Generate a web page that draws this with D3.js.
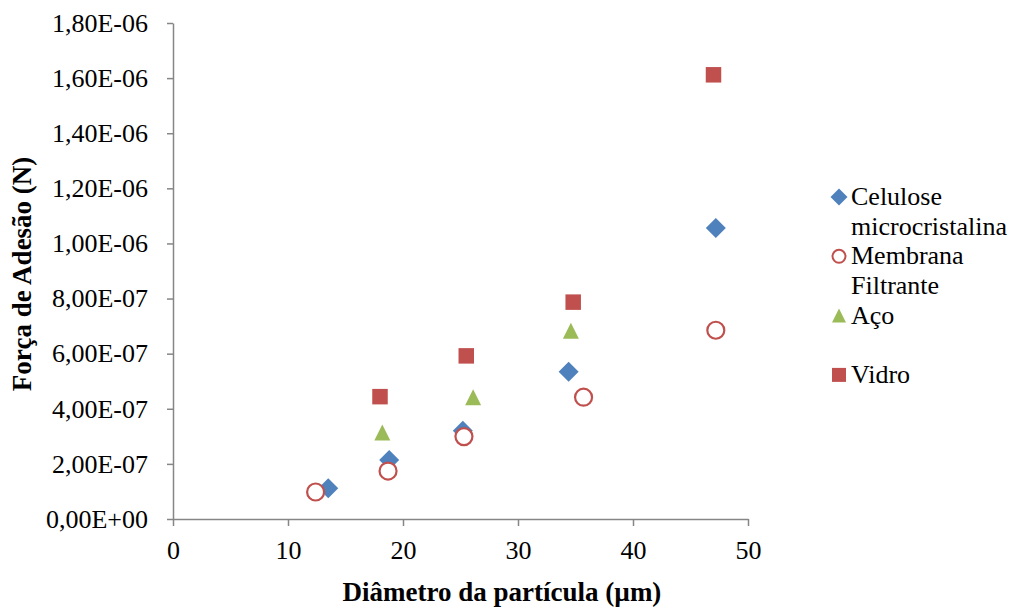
<!DOCTYPE html>
<html>
<head>
<meta charset="utf-8">
<script src="https://cdn.jsdelivr.net/npm/d3@7"></script>
<style>
  body { margin: 0; background: #fff; }
</style>
</head>
<body>
<script>
const WIDTH = 1016;
const HEIGHT = 612;
const FONT_SIZE = 26;
const FONT = '"Liberation Serif"';
const AXIS_COLOR = "#868686";

// tick values
const xTicks = [0, 10, 20, 30, 40, 50];
const yTicks = [0, 2e-7, 4e-7, 6e-7, 8e-7, 1e-6, 1.2e-6, 1.4e-6, 1.6e-6, 1.8e-6];

// series values
const seriesNames = ["Celulose microcristalina", "Membrana Filtrante", "Aço", "Vidro"];
const celuloseX = [13.5, 18.8, 25.2, 34.4, 47.2];
const celuloseY = [1.12e-7, 2.14e-7, 3.2e-7, 5.34e-7, 1.056e-6];
const membranaX = [12.4, 18.7, 25.3, 35.7, 47.2];
const membranaY = [0.98e-7, 1.74e-7, 2.99e-7, 4.42e-7, 6.85e-7];
const acoX = [18.2, 26.1, 34.6];
const acoY = [3.14e-7, 4.42e-7, 6.83e-7];
const vidroX = [18.0, 25.5, 34.8, 47.0];
const vidroY = [4.44e-7, 5.92e-7, 7.87e-7, 1.612e-6];

const diamond = {
  draw(ctx, size) {
    const r = Math.sqrt(size) / 2;
    ctx.moveTo(0, -r);
    ctx.lineTo(r, 0);
    ctx.lineTo(0, r);
    ctx.lineTo(-r, 0);
    ctx.closePath();
  },
};
const triangle = {
  draw(ctx, size) {
    const s = Math.sqrt(size) / 2;
    ctx.moveTo(0, -s);
    ctx.lineTo(s, s);
    ctx.lineTo(-s, s);
    ctx.closePath();
  },
};

const series = [
  { name: seriesNames[0], xs: celuloseX, ys: celuloseY, type: diamond, size: 20 * 20, legendSize: 17 * 17, fill: "#4F81BD", stroke: "none" },
  { name: seriesNames[1], xs: membranaX, ys: membranaY, type: d3.symbolCircle, size: Math.PI * 8.5 * 8.5, legendSize: Math.PI * 6.5 * 6.5, fill: "#fff", stroke: "#C0504D" },
  { name: seriesNames[2], xs: acoX, ys: acoY, type: triangle, size: 16 * 16, legendSize: 14 * 14, fill: "#9BBB59", stroke: "none" },
  { name: seriesNames[3], xs: vidroX, ys: vidroY, type: d3.symbolSquare, size: 15.5 * 15.5, legendSize: 14 * 14, fill: "#C0504D", stroke: "none" },
];

const svg = d3.select("body").append("svg")
  .attr("width", WIDTH)
  .attr("height", HEIGHT);

svg.append("rect").attr("width", WIDTH).attr("height", HEIGHT).attr("fill", "#fff");

const x = d3.scaleLinear().domain([0, 50]).range([173, 748]);
const y = d3.scaleLinear().domain([0, 1.8e-6]).range([519, 23]);

const sci = (v) => {
  if (v === 0) return "0,00E+00";
  const [m, e] = v.toExponential(2).split("e");
  const exp = Number(e);
  return m.replace(".", ",") + "E" + (exp < 0 ? "-" : "+") + String(Math.abs(exp)).padStart(2, "0");
};

const styleAxis = (g) => {
  g.select(".domain").attr("stroke", AXIS_COLOR).attr("stroke-width", 1.5);
  g.selectAll(".tick line").attr("stroke", AXIS_COLOR).attr("stroke-width", 1.5);
  g.selectAll(".tick text")
    .style("font-family", FONT)
    .style("font-size", FONT_SIZE + "px")
    .attr("fill", "#000");
};

svg.append("g")
  .attr("transform", `translate(0,${y(0)})`)
  .call(d3.axisBottom(x).tickValues(xTicks).tickFormat(d3.format("d")).tickSize(7).tickSizeOuter(0).tickPadding(15))
  .call(styleAxis);

svg.append("g")
  .attr("transform", `translate(${x(0)},0)`)
  .call(d3.axisLeft(y).tickValues(yTicks).tickFormat(sci).tickSize(6).tickSizeOuter(0).tickPadding(19))
  .call(styleAxis);

// axis titles
svg.append("text")
  .attr("x", 502)
  .attr("y", 601)
  .attr("text-anchor", "middle")
  .style("font-family", FONT)
  .style("font-size", "27px")
  .style("font-weight", "bold")
  .text("Diâmetro da partícula (µm)");

svg.append("text")
  .attr("transform", "translate(31,274) rotate(-90)")
  .attr("text-anchor", "middle")
  .style("font-family", FONT)
  .style("font-size", "27px")
  .style("font-weight", "bold")
  .text("Força de Adesão (N)");

// points
for (const s of series) {
  const pts = s.xs.map((v, i) => ({ x: v, y: s.ys[i] }));
  svg.append("g")
    .selectAll("path")
    .data(pts)
    .join("path")
    .attr("transform", (d) => `translate(${x(d.x)},${y(d.y)})`)
    .attr("d", d3.symbol(s.type, s.size))
    .attr("fill", s.fill)
    .attr("stroke", s.stroke)
    .attr("stroke-width", 2.2);
}

// legend
const legend = svg.append("g");
series.forEach((s, i) => {
  const my = 197 + i * 59.3;
  legend.append("path")
    .attr("transform", `translate(839,${my})`)
    .attr("d", d3.symbol(s.type, s.legendSize))
    .attr("fill", s.fill)
    .attr("stroke", s.stroke)
    .attr("stroke-width", 2);
  const lines = s.name.split(" ");
  const t = legend.append("text")
    .attr("x", 851)
    .attr("y", my + 8)
    .style("font-family", FONT)
    .style("font-size", FONT_SIZE + "px");
  lines.forEach((line, j) => {
    t.append("tspan")
      .attr("x", 851)
      .attr("dy", j === 0 ? 0 : 30)
      .text(line);
  });
});
</script>
</body>
</html>
